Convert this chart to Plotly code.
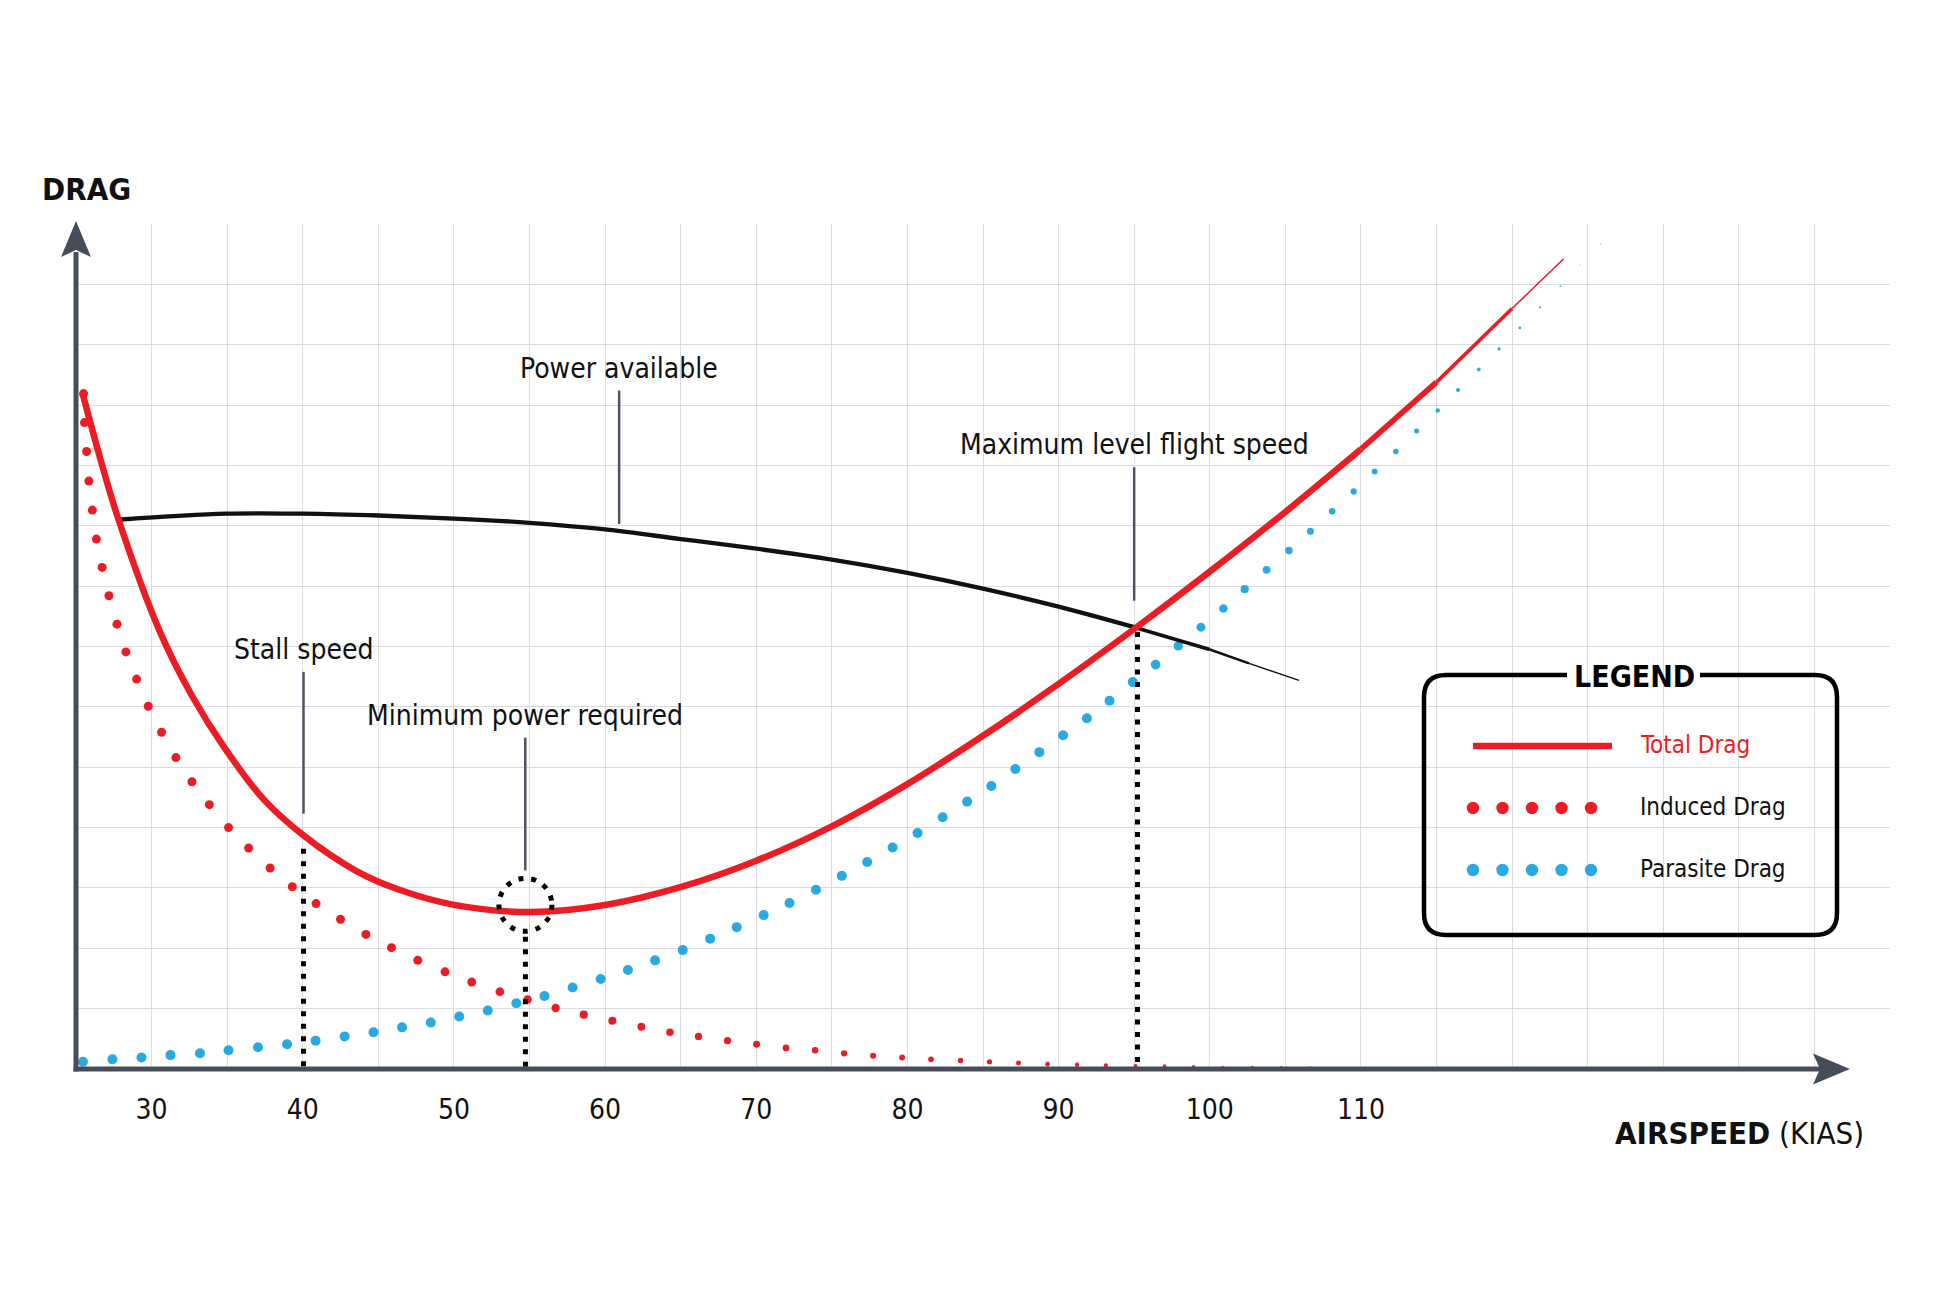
import plotly.graph_objects as go

# values: airspeed in knots (KIAS),
# drag in grid units (the chart has no drag scale, 14 grid rows)
total_speed = [25.44, 26.61, 27.79, 30.54, 32.68, 34.83, 37.37, 40.05, 43.55, 46.39,
               50.02, 55.08, 60.10, 65.09, 70.00, 75.00, 80.00, 85.00, 90.00, 95.00,
               100.00, 105.00, 110.00, 115.00, 120.00, 123.40]
total_drag = [11.19, 10.11, 9.12, 7.25, 6.18, 5.32, 4.48, 3.87, 3.28, 2.97,
              2.72, 2.60, 2.72, 3.02, 3.45, 4.02, 4.72, 5.52, 6.38, 7.29,
              8.24, 9.23, 10.27, 11.38, 12.60, 13.42]

induced_speed = [25.50, 25.56, 25.70, 25.85, 26.08, 26.35, 26.73, 27.18, 27.71, 28.30,
                 29.01, 29.78, 30.66, 31.61, 32.67, 33.82, 35.09, 36.42, 37.84, 39.31,
                 40.88, 42.50, 44.18, 45.87, 47.61, 49.41, 51.18, 53.04, 54.87, 56.73,
                 58.59, 60.48, 62.40, 64.29, 66.18, 68.10, 70.02, 71.97, 73.89, 75.81,
                 77.73, 79.65, 81.56, 83.51, 85.43, 87.35, 89.27, 91.22, 93.13, 95.09,
                 97.01, 98.93, 100.87, 102.82, 104.74, 106.66, 108.58, 110.50, 112.40, 114.30]
induced_drag = [11.19, 10.71, 10.23, 9.74, 9.26, 8.78, 8.31, 7.84, 7.37, 6.91,
                6.46, 6.01, 5.58, 5.16, 4.76, 4.38, 4.00, 3.66, 3.33, 3.02,
                2.74, 2.48, 2.23, 2.01, 1.80, 1.61, 1.44, 1.28, 1.15, 1.01,
                0.90, 0.80, 0.70, 0.61, 0.54, 0.47, 0.41, 0.35, 0.31, 0.26,
                0.22, 0.19, 0.16, 0.14, 0.12, 0.10, 0.08, 0.07, 0.06, 0.05,
                0.05, 0.04, 0.03, 0.03, 0.03, 0.03, 0.02, 0.02, 0.02, 0.02]

parasite_speed = [25.46, 27.41, 29.33, 31.25, 33.20, 35.09, 37.04, 38.96, 40.85, 42.77,
                  44.68, 46.57, 48.47, 50.35, 52.24, 54.13, 55.99, 57.85, 59.71, 61.51,
                  63.31, 65.14, 66.95, 68.71, 70.49, 72.20, 73.95, 75.66, 77.34, 79.02,
                  80.67, 82.33, 83.95, 85.55, 87.14, 88.73, 90.30, 91.87, 93.37, 94.91,
                  96.42, 97.92, 99.42, 100.90, 102.31, 103.76, 105.24, 106.66, 108.10, 109.52,
                  110.91, 112.31, 113.68, 115.08, 116.42, 117.80, 119.14, 120.51, 121.85, 123.19,
                  124.51, 125.85]
parasite_drag = [0.12, 0.16, 0.19, 0.23, 0.26, 0.31, 0.36, 0.41, 0.47, 0.54,
                 0.61, 0.69, 0.77, 0.87, 0.97, 1.09, 1.21, 1.35, 1.49, 1.64,
                 1.80, 1.97, 2.16, 2.35, 2.55, 2.75, 2.97, 3.20, 3.43, 3.67,
                 3.91, 4.17, 4.43, 4.69, 4.97, 5.25, 5.53, 5.81, 6.10, 6.41,
                 6.70, 7.01, 7.32, 7.63, 7.95, 8.27, 8.59, 8.91, 9.24, 9.57,
                 9.90, 10.23, 10.57, 10.91, 11.25, 11.59, 11.93, 12.28, 12.62, 12.97,
                 13.32, 13.67]

power_speed = [27.79, 34.95, 40.00, 45.00, 50.00, 55.00, 60.00, 65.00, 70.00, 75.00,
               80.00, 85.00, 90.00, 95.00, 100.00, 102.60, 105.90]
power_drag = [9.10, 9.20, 9.20, 9.17, 9.12, 9.05, 8.94, 8.78, 8.62, 8.44,
              8.22, 7.96, 7.66, 7.32, 6.95, 6.72, 6.44]

tick_speeds = [30, 40, 50, 60, 70, 80, 90, 100, 110]
tick_labels = ["30", "40", "50", "60", "70", "80", "90", "100", "110"]

callout_labels = ["Power available", "Stall speed", "Minimum power required",
                  "Maximum level flight speed"]
callout_speeds = [60.93, 40.05, 54.72, 95.00]
callout_low = [9.03, 4.23, 3.29, 7.76]
callout_high = [11.24, 6.58, 5.49, 9.97]

drop_speeds = [40.05, 54.73, 95.22]
drop_tops = [3.65, 2.19, 7.24]

min_power_speed = 54.73
min_power_drag = 2.72

legend_labels = ["Total Drag", "Induced Drag", "Parasite Drag"]

# page geometry (pixels)
W, H = 1950, 1290
L, R, T, B = 76, 1890, 224, 1069
X_RANGE = [25, 145]
Y_RANGE = [0, 14]

FONT = "DejaVu Sans Condensed, Liberation Sans Narrow, Roboto, sans-serif"
RED = "#ec1c24"
BLUE = "#27aae1"
SLATE = "#464d5a"
GRID = "#d9dce2"
LEADER = "#4f5663"
INK = "#111111"


def paper_x(px):
    return (px - L) / (R - L)


def paper_y(py):
    return (B - py) / (B - T)


def induced_size(v):
    return max(1.0, 9 * min(1.0, max(0.0, 114.5 - v) / 64) ** 0.7)


def parasite_size(v):
    return max(1.0, 10 * min(1.0, max(0.0, 126.0 - v) / 31) ** 0.75)


fig = go.Figure()

fig.add_trace(go.Scatter(
    x=induced_speed, y=induced_drag, mode="markers",
    marker=dict(color=RED, opacity=1, line=dict(width=0),
                size=[induced_size(v) for v in induced_speed]),
))
fig.add_trace(go.Scatter(
    x=parasite_speed, y=parasite_drag, mode="markers",
    marker=dict(color=BLUE, opacity=1, line=dict(width=0),
                size=[parasite_size(v) for v in parasite_speed]),
))


def add_tapered_line(xs, ys, color, width, taper_at, end_width):
    fig.add_trace(go.Scatter(
        x=xs[:taper_at + 1], y=ys[:taper_at + 1], mode="lines",
        line=dict(color=color, width=width, shape="spline", smoothing=1.0),
    ))
    n = len(xs) - 1 - taper_at
    for k in range(n):
        i = taper_at + k
        w = width + (end_width - width) * (k + 0.5) / n
        fig.add_trace(go.Scatter(x=xs[i:i + 2], y=ys[i:i + 2], mode="lines",
                                 line=dict(color=color, width=w)))


add_tapered_line(power_speed, power_drag, INK, 4.3, 13, 0.8)
add_tapered_line(total_speed, total_drag, RED, 6.5, 22, 0.6)

# dotted drop lines to the airspeed axis
for s, top in zip(drop_speeds, drop_tops):
    fig.add_trace(go.Scatter(x=[s, s], y=[top, 0], mode="lines",
                             line=dict(color="black", width=5, dash="5px,7.5px")))

# callouts
for label, s, lo, hi in zip(callout_labels, callout_speeds, callout_low, callout_high):
    fig.add_trace(go.Scatter(x=[s, s], y=[lo, hi], mode="lines",
                             line=dict(color=LEADER, width=2.5)))
    fig.add_annotation(x=s, y=hi, text=label, showarrow=False, yanchor="bottom", yshift=4,
                       font=dict(family=FONT, size=28, color=INK))

# dotted ring round the minimum
rx = 26.5 * (X_RANGE[1] - X_RANGE[0]) / (R - L)
ry = 26.5 * (Y_RANGE[1] - Y_RANGE[0]) / (B - T)
fig.add_shape(type="circle", xref="x", yref="y",
              x0=min_power_speed - rx, x1=min_power_speed + rx,
              y0=min_power_drag - ry, y1=min_power_drag + ry,
              line=dict(color="black", width=5, dash="5px,8px"))

# axes with arrow heads
fig.add_shape(type="line", xref="paper", yref="paper",
              x0=paper_x(L), y0=paper_y(B + 2.5), x1=paper_x(L), y1=paper_y(252),
              line=dict(color=SLATE, width=5))
fig.add_shape(type="line", xref="paper", yref="paper",
              x0=paper_x(L - 2.5), y0=paper_y(B), x1=paper_x(1822), y1=paper_y(B),
              line=dict(color=SLATE, width=5))
fig.add_shape(type="path", xref="paper", yref="paper", fillcolor=SLATE, line=dict(width=0),
              path=f"M {paper_x(L)},{paper_y(221)} L {paper_x(L - 15)},{paper_y(257)} "
                   f"L {paper_x(L)},{paper_y(250)} L {paper_x(L + 15)},{paper_y(257)} Z")
fig.add_shape(type="path", xref="paper", yref="paper", fillcolor=SLATE, line=dict(width=0),
              path=f"M {paper_x(1850)},{paper_y(B)} L {paper_x(1813)},{paper_y(B - 15.5)} "
                   f"L {paper_x(1820)},{paper_y(B)} L {paper_x(1813)},{paper_y(B + 15.5)} Z")

# axis titles
fig.add_annotation(xref="paper", yref="paper", x=paper_x(40), y=paper_y(189),
                   xanchor="left", yanchor="middle", showarrow=False, text="<b>DRAG</b>",
                   font=dict(family=FONT, size=31, color=INK))
fig.add_annotation(xref="paper", yref="paper", x=paper_x(1866), y=paper_y(1133),
                   xanchor="right", yanchor="middle", showarrow=False,
                   text="<b>AIRSPEED</b> (KIAS)",
                   font=dict(family=FONT, size=31, color=INK))

# hand drawn legend box
bl, br, bt, bb, rad = 1424, 1837, 675, 935, 22
gap_l, gap_r = 1567, 1700
pts = [
    ("M", gap_l, bt), ("L", bl + rad, bt), ("Q", bl, bt, bl, bt + rad),
    ("L", bl, bb - rad), ("Q", bl, bb, bl + rad, bb),
    ("L", br - rad, bb), ("Q", br, bb, br, bb - rad),
    ("L", br, bt + rad), ("Q", br, bt, br - rad, bt),
    ("L", gap_r, bt),
]
path = ""
for p in pts:
    cmd, coords = p[0], p[1:]
    xy = [f"{paper_x(coords[j])},{paper_y(coords[j + 1])}" for j in range(0, len(coords), 2)]
    path += cmd + " " + " ".join(xy) + " "
fig.add_shape(type="path", xref="paper", yref="paper", path=path.strip(),
              line=dict(color="black", width=4.5))
fig.add_annotation(xref="paper", yref="paper", x=paper_x((gap_l + gap_r) / 2 + 1), y=paper_y(676),
                   xanchor="center", yanchor="middle", showarrow=False, text="<b>LEGEND</b>",
                   font=dict(family=FONT, size=30, color="black"))

key_y = [746, 808, 870]
fig.add_shape(type="line", xref="paper", yref="paper",
              x0=paper_x(1473), x1=paper_x(1612), y0=paper_y(key_y[0]), y1=paper_y(key_y[0]),
              line=dict(color=RED, width=6.5))
for row, color in ((1, RED), (2, BLUE)):
    for k in range(5):
        cx = 1473 + 29.5 * k
        fig.add_shape(type="circle", xref="paper", yref="paper", fillcolor=color,
                      line=dict(width=0),
                      x0=paper_x(cx - 6.2), x1=paper_x(cx + 6.2),
                      y0=paper_y(key_y[row] + 6.2), y1=paper_y(key_y[row] - 6.2))
for label, yy, color in zip(legend_labels, key_y, [RED, INK, INK]):
    fig.add_annotation(xref="paper", yref="paper", x=paper_x(1638), y=paper_y(yy - 1),
                       xanchor="left", yanchor="middle", showarrow=False, text=label,
                       font=dict(family=FONT, size=24, color=color))

grid_speeds = list(range(25, 150, 5))
grid_text = [tick_labels[tick_speeds.index(v)] if v in tick_speeds else "" for v in grid_speeds]

fig.update_layout(
    width=W, height=H,
    margin=dict(l=L, r=W - R, t=T, b=H - B),
    paper_bgcolor="white", plot_bgcolor="white",
    showlegend=False,
    xaxis=dict(range=X_RANGE, tickmode="array", tickvals=grid_speeds, ticktext=grid_text,
               showgrid=True, gridcolor=GRID, gridwidth=1.2, zeroline=False, showline=False,
               ticks="outside", ticklen=15, tickcolor="rgba(0,0,0,0)",
               tickfont=dict(family=FONT, size=28, color=INK)),
    yaxis=dict(range=Y_RANGE, tickmode="linear", tick0=0, dtick=1,
               showgrid=True, gridcolor=GRID, gridwidth=1.2, zeroline=False,
               showticklabels=False, ticks=""),
)

fig.write_html("out.html", config={"displayModeBar": False},
               post_script="document.body.style.margin='0';")
